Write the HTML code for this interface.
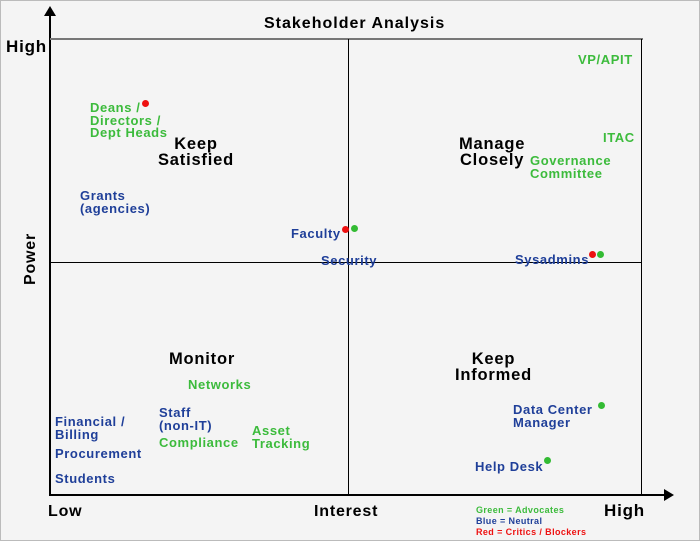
<!DOCTYPE html><html><head><style>
body{margin:0;background:#fff}
#c{position:relative;width:698px;height:539px;border:1px solid #bbb;background:#f4f4f4;font-family:"Liberation Sans",sans-serif;font-weight:bold;overflow:hidden}
.t{position:absolute;font-size:13px;line-height:12.5px;white-space:nowrap;letter-spacing:0.6px}
.g{color:#3cbb3c}.b{color:#1f3f99}.r{color:#ee1111}
.k{position:absolute;color:#000;font-size:16px;line-height:16px;text-align:center;white-space:nowrap;letter-spacing:0.8px}
.d{position:absolute;width:7px;height:7px;border-radius:50%}
.l{position:absolute;background:#000}
</style></head><body><div id="c">
<div class="l" style="left:48px;top:12px;width:2px;height:483px"></div>
<div style="position:absolute;left:43px;top:5px;width:0;height:0;border-left:6px solid transparent;border-right:6px solid transparent;border-bottom:10px solid #000"></div>
<div class="l" style="left:48px;top:493px;width:616px;height:2px"></div>
<div style="position:absolute;left:663px;top:488px;width:0;height:0;border-top:6px solid transparent;border-bottom:6px solid transparent;border-left:10px solid #000"></div>
<div class="l" style="left:49px;top:37px;width:593px;height:2px;background:#777"></div>
<div class="l" style="left:640px;top:38px;width:1px;height:456px"></div>
<div class="l" style="left:347px;top:38px;width:1px;height:456px"></div>
<div class="l" style="left:49px;top:261px;width:592px;height:1px"></div>
<div class="k" style="left:263px;top:15px;letter-spacing:1px">Stakeholder Analysis</div>
<div class="k" style="left:5px;top:38px;font-size:17px">High</div>
<div class="k" style="left:22px;top:284px;transform:rotate(-90deg);transform-origin:0 0">Power</div>
<div class="k" style="left:47px;top:503px">Low</div>
<div class="k" style="left:313px;top:503px">Interest</div>
<div class="k" style="left:603px;top:502px;font-size:17px">High</div>
<div class="k" style="left:157px;top:135px;font-size:16.5px">Keep<br>Satisfied</div>
<div class="k" style="left:458px;top:135px;font-size:16.5px">Manage<br>Closely</div>
<div class="k" style="left:168px;top:350px;text-align:left;font-size:16.5px">Monitor</div>
<div class="k" style="left:454px;top:350px;font-size:16.5px">Keep<br>Informed</div>
<div class="t g" style="left:89px;top:101px">Deans /<br>Directors /<br>Dept Heads</div>
<div class="d r" style="left:141px;top:99px;background:#e11"></div>
<div class="t b" style="left:79px;top:189px">Grants<br>(agencies)</div>
<div class="t b" style="left:290px;top:227px">Faculty</div>
<div class="d" style="left:341px;top:225px;background:#e11"></div>
<div class="d" style="left:350px;top:224px;background:#3b3"></div>
<div class="t b" style="left:320px;top:254px">Security</div>
<div class="t g" style="left:577px;top:53px">VP/APIT</div>
<div class="t g" style="left:602px;top:131px">ITAC</div>
<div class="t g" style="left:529px;top:154px">Governance<br>Committee</div>
<div class="t b" style="left:514px;top:253px">Sysadmins</div>
<div class="d" style="left:588px;top:250px;background:#e11"></div>
<div class="d" style="left:596px;top:250px;background:#3b3"></div>
<div class="t g" style="left:187px;top:378px">Networks</div>
<div class="t b" style="left:54px;top:415px">Financial /<br>Billing</div>
<div class="t b" style="left:158px;top:406px">Staff<br>(non-IT)</div>
<div class="t g" style="left:158px;top:436px">Compliance</div>
<div class="t g" style="left:251px;top:424px">Asset<br>Tracking</div>
<div class="t b" style="left:54px;top:447px">Procurement</div>
<div class="t b" style="left:54px;top:472px">Students</div>
<div class="t b" style="left:512px;top:403px">Data Center<br>Manager</div>
<div class="d" style="left:597px;top:401px;background:#3b3"></div>
<div class="t b" style="left:474px;top:460px">Help Desk</div>
<div class="d" style="left:543px;top:456px;background:#3b3"></div>
<div class="t g" style="left:475px;top:504px;font-size:9px;line-height:11px;letter-spacing:0.4px">Green = Advocates</div>
<div class="t b" style="left:475px;top:515px;font-size:9px;line-height:11px;letter-spacing:0.4px">Blue = Neutral</div>
<div class="t r" style="left:475px;top:526px;font-size:9px;line-height:11px;letter-spacing:0.4px">Red = Critics / Blockers</div>
</div></body></html>
